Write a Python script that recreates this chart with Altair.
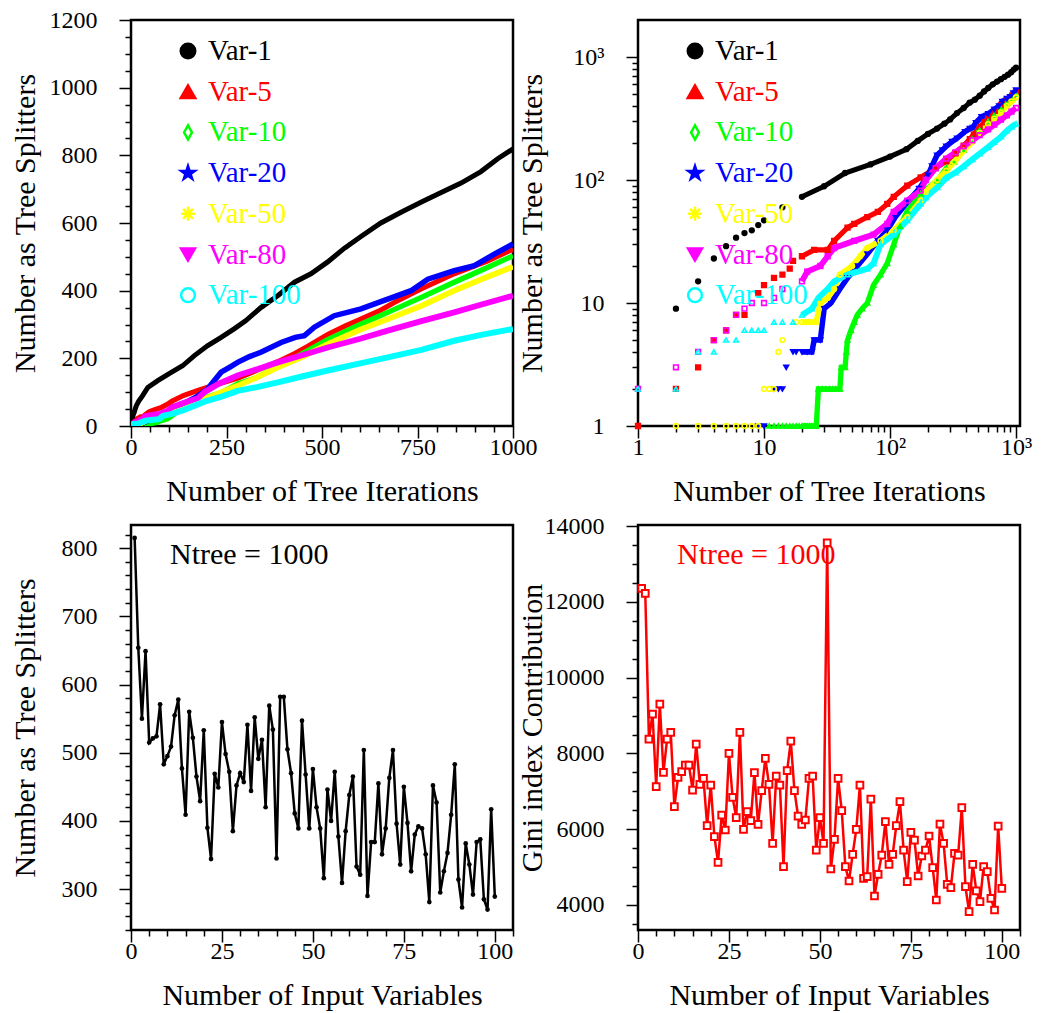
import altair as alt
import pandas as pd

FONT = "Liberation Serif"

# ---------------- top panels: cumulative counts per variable ----------------
var_names = ["Var-1", "Var-5", "Var-10", "Var-20", "Var-50", "Var-80", "Var-100"]
var_colors = ["#000000", "#ff0000", "#00ff00", "#0000ff", "#ffff00", "#ff00ff", "#00ffff"]

var1_iter = [2, 3, 4, 5, 6, 7, 8, 9, 10, 14, 20, 30, 44, 70, 100, 135, 166, 200, 236, 270, 300, 340, 384, 428,
             471, 515, 558, 602, 654, 707, 759, 812, 864, 916, 960, 1000]
var1_count = [9, 15, 23, 29, 34, 37, 39, 43, 47, 60, 73, 89, 114, 134, 155, 178, 208, 237, 262, 287, 311, 350, 385, 425,
              450, 485, 525, 560, 600, 632, 661, 690, 718, 752, 790, 819]

var5_iter = [1, 2, 3, 4, 5, 6, 7, 9, 10, 12, 14, 16, 17, 20, 25, 32, 36, 46, 52, 66, 80, 95, 107, 137, 175, 230,
             280, 330, 384, 430, 462, 515, 560, 600, 650, 689, 759, 846, 934, 1000]
var5_count = [1, 2, 3, 5, 6, 8, 8, 12, 14, 16, 17, 19, 22, 24, 27, 27, 32, 41, 44, 50, 55, 64, 73, 90, 105, 125,
              142, 165, 190, 215, 235, 270, 295, 315, 340, 365, 405, 450, 488, 523]

var10_iter = [11, 12, 13, 14, 15, 16, 17, 18, 19, 20, 21, 22, 23, 24, 25, 26, 27, 29, 31, 33, 35, 37, 40, 41, 44, 45,
              46, 49, 52, 55, 60, 66, 74, 84, 95, 107, 120, 137, 175, 237, 280, 322, 384, 450, 515, 600, 672,
              760, 846, 920, 1000]
var10_count = [1, 1, 1, 1, 1, 1, 1, 1, 1, 1, 1, 1, 1, 1, 1, 1, 2, 2, 2, 2, 2, 2, 2, 3, 3, 4,
               5, 6, 7, 8, 9, 10, 14, 17, 21, 30, 42, 56, 77, 99, 125, 140, 175, 215, 255, 300, 336,
               380, 425, 462, 503]

var20_iter = [9, 10, 12, 13, 14, 15, 17, 18, 20, 22, 24, 25, 28, 30, 34, 40, 46, 55, 66, 80, 95, 110, 137, 170, 200,
              215, 236, 260, 279, 310, 340, 393, 430, 454, 480, 532, 602, 672, 733, 777, 846, 899, 951, 1000]
var20_count = [1, 1, 2, 2, 2, 3, 4, 4, 4, 4, 4, 5, 5, 9, 10, 13, 16, 20, 25, 32, 39, 50, 66, 85, 109,
               130, 159, 175, 188, 205, 218, 247, 262, 267, 292, 326, 346, 375, 400, 434, 459, 474, 508, 538]

var50_iter = [2, 3, 4, 5, 6, 7, 8, 9, 10, 11, 12, 13, 14, 18, 20, 22, 24, 26, 28, 32, 36, 40, 50, 58, 66, 84, 107,
              137, 175, 192, 237, 279, 322, 384, 450, 515, 600, 672, 760, 846, 920, 1000]
var50_count = [1, 1, 1, 1, 1, 1, 1, 1, 2, 2, 2, 4, 5, 7, 7, 7, 7, 7, 10, 11, 13, 17, 20, 24, 28, 32, 39,
               50, 68, 80, 100, 119, 140, 173, 205, 242, 285, 316, 355, 400, 435, 471]

var80_iter = [1, 2, 3, 4, 5, 6, 7, 8, 10, 12, 14, 20, 22, 28, 32, 36, 52, 74, 95, 107, 137, 175, 192, 230, 279,
              330, 384, 450, 515, 600, 672, 760, 846, 920, 1000]
var80_count = [2, 3, 4, 5, 6, 8, 9, 10, 10, 11, 13, 15, 18, 20, 24, 28, 32, 36, 44, 55, 68, 82, 100, 125, 149,
               168, 188, 210, 232, 258, 282, 310, 336, 360, 385]

var100_iter = [1, 2, 3, 4, 5, 6, 7, 8, 9, 10, 12, 14, 17, 20, 24, 27, 32, 36, 46, 66, 74, 84, 107, 137, 175, 192,
               237, 279, 330, 384, 450, 515, 600, 672, 760, 846, 920, 1000]
var100_count = [2, 2, 4, 4, 5, 5, 6, 6, 6, 6, 7, 7, 7, 8, 9, 11, 13, 15, 17, 19, 21, 30, 36, 47, 64, 72,
                87, 104, 115, 129, 147, 164, 185, 203, 225, 252, 270, 287]

# ---------------- bottom panels ----------------
input_var = list(range(1, 101))
splitters = [815, 654, 550, 649, 515, 521, 524, 571, 483, 495, 509, 555, 578, 477, 409, 560, 522, 465, 429, 533,
             390, 344, 469, 449, 545, 498, 472, 385, 452, 470, 457, 541, 444, 552, 491, 519, 420, 569, 534, 345,
             582, 582, 505, 470, 411, 389, 547, 468, 389, 476, 420, 389, 316, 446, 400, 472, 377, 309, 385, 438,
             465, 333, 321, 504, 290, 369, 369, 455, 351, 389, 463, 504, 396, 336, 450, 397, 326, 380, 392, 389,
             351, 281, 452, 427, 295, 326, 353, 409, 483, 314, 273, 367, 336, 292, 369, 373, 285, 270, 417, 289]
gini = [12355, 12223, 8380, 9040, 7122, 9303, 7500, 8380, 8556, 6595, 7368, 7518, 7694, 7694, 7034, 8248, 7184,
        7342, 6093, 7166, 5803, 5126, 6374, 5979, 8002, 6841, 6304, 8556, 5997, 6463, 6225, 7492, 6129, 7017,
        7870, 7184, 5627, 7404, 7166, 5011, 7545, 8327, 7017, 6348, 6129, 6243, 7342, 7404, 5451, 6304, 5627,
        13560, 4950, 5733, 7342, 6489, 5011, 4633, 5337, 5997, 7166, 4704, 4748, 6797, 4237, 4809, 5319, 6199,
        5073, 5337, 6093, 6727, 5451, 4616, 5918, 5715, 4765, 5293, 5451, 5821, 4985, 4132, 6137, 5627, 4545,
        4458, 5363, 5319, 6568, 4484, 3824, 5073, 4370, 4088, 5011, 4880, 4176, 3868, 6084, 4440]
ntree_text = ["Ntree = 1000"]

# ---------------- build tables ----------------
series = [
    (var1_iter, var1_count), (var5_iter, var5_count), (var10_iter, var10_count), (var20_iter, var20_count),
    (var50_iter, var50_count), (var80_iter, var80_count), (var100_iter, var100_count),
]
rows = []
for k, (name, (its, cs)) in enumerate(zip(var_names, series)):
    for it, c in zip(its, cs):
        rows.append({"var": name, "iter": it, "count": c, "k": k})
df_top = pd.DataFrame(rows)
df_leg = pd.DataFrame({"var": var_names, "idx": list(range(len(var_names)))})
df_bot = pd.DataFrame({"input": input_var, "splitters": splitters, "gini": gini})
df_note = pd.DataFrame({"label": ntree_text})

color_scale = alt.Scale(domain=var_names, range=var_colors)

DIAMOND = "M0,-1L0.55,0L0,1L-0.55,0Z"
STAR = "M0,-1L0.224,-0.309L0.951,-0.309L0.363,0.118L0.588,0.809L0,0.382L-0.588,0.809L-0.363,0.118L-0.951,-0.309L-0.224,-0.309Z"
ASTER = "M0,-1L0,1M-1,0L1,0M-0.7,-0.7L0.7,0.7M-0.7,0.7L0.7,-0.7"
leg_shapes = ["circle", "triangle-up", DIAMOND, STAR, ASTER, "triangle-down", "circle"]
leg_fills = ["#000000", "#ff0000", "transparent", "#0000ff", "transparent", "#ff00ff", "transparent"]
leg_sizes = [210, 190, 260, 170, 250, 190, 230]

W, H_TOP, H_BOT = 382, 406, 405


def axis(values, major_test, label_expr, title, kind):
    kw = dict(
        values=values, title=title, labelExpr=label_expr,
        tickSize={"condition": {"test": major_test, "value": 12}, "value": 6},
        tickColor="black", tickWidth=1.5, domain=False, grid=False,
        labelFont=FONT, labelFontSize=24, labelColor="black",
        titleFont=FONT, titleFontSize=30, titleFontWeight="normal", titleColor="black",
        labelOverlap=False, labelFlush=False,
    )
    if kind == "x":
        kw.update(labelPadding=-3, titlePadding=12, minExtent=38, maxExtent=38)
    else:
        kw.update(labelPadding=22, titlePadding=13, minExtent=78, maxExtent=78)
    return alt.Axis(**kw)


def lin_label(step):
    return f"datum.value % {step} === 0 ? format(datum.value, 'd') : ''"


LOG_TEST = "indexof([1, 10, 100, 1000], datum.value) >= 0"
LOG_LABEL = ("datum.value == 1 ? '1' : datum.value == 10 ? '10' : datum.value == 100 ? '10\u00b2' : "
             "datum.value == 1000 ? '10\u00b3' : ''")
log_vals = [m * d for d in (1, 10, 100) for m in range(1, 10)] + [1000]


def legend_layers():
    pts = alt.Chart(df_leg).mark_point(opacity=1, strokeWidth=2.5, filled=False).encode(
        x=alt.value(57),
        y=alt.Y("ypx:Q", scale=None, axis=None),
        shape=alt.Shape("var:N", scale=alt.Scale(domain=var_names, range=leg_shapes), legend=None),
        fill=alt.Fill("var:N", scale=alt.Scale(domain=var_names, range=leg_fills), legend=None),
        stroke=alt.Stroke("var:N", scale=color_scale, legend=None),
        size=alt.Size("var:N", scale=alt.Scale(domain=var_names, range=leg_sizes), legend=None),
    ).transform_calculate(ypx="31 + datum.idx * 40.7")
    txt = alt.Chart(df_leg).mark_text(align="left", baseline="middle", font=FONT, fontSize=29).encode(
        x=alt.value(77),
        y=alt.Y("ypx:Q", scale=None, axis=None),
        text="var:N",
        color=alt.Color("var:N", scale=color_scale, legend=None),
    ).transform_calculate(ypx="31 + datum.idx * 40.7")
    return [pts, txt]


# ---- top-left: linear ----
tl_widths = [5, 6, 6, 5, 6.5, 7, 8]
tl_lines = alt.Chart(df_top).mark_line(clip=True).encode(
    x=alt.X("iter:Q", scale=alt.Scale(domain=[0, 1000], nice=False, zero=False),
            axis=axis(list(range(0, 1001, 50)), "datum.value % 250 === 0", lin_label(250),
                      "Number of Tree Iterations", "x")),
    y=alt.Y("count:Q", scale=alt.Scale(domain=[0, 1200], nice=False),
            axis=axis(list(range(0, 1201, 50)), "datum.value % 200 === 0", lin_label(200),
                      "Number as Tree Splitters", "y")),
    color=alt.Color("var:N", scale=color_scale, legend=None),
    strokeWidth=alt.StrokeWidth("var:N", scale=alt.Scale(domain=var_names, range=tl_widths), legend=None),
    detail="var:N",
)
tl = alt.layer(tl_lines, *legend_layers()).resolve_scale(
    fill="independent", shape="independent", size="independent", stroke="independent"
).properties(width=W, height=H_TOP)

# ---- top-right: log-log ----
tr_widths = [4, 5.5, 5, 5, 6, 7, 7.5]
tr_shapes = ["circle", "square", "triangle-up", "triangle-down", "circle", "square", "triangle-up"]
tr_fills = ["#000000", "#ff0000", "#00ff00", "#0000ff", "transparent", "transparent", "transparent"]
tr_sizes = [22, 22, 28, 28, 40, 40, 55]
x_log = alt.X("iter:Q", scale=alt.Scale(type="log", domain=[1, 1075], nice=False),
              axis=axis(log_vals, LOG_TEST, LOG_LABEL, "Number of Tree Iterations", "x"))
y_log = alt.Y("count:Q", scale=alt.Scale(type="log", domain=[1, 2000], nice=False),
              axis=axis(log_vals, LOG_TEST, LOG_LABEL, "Number as Tree Splitters", "y"))
tr_lines = alt.Chart(df_top).transform_filter("datum.iter >= 20").mark_line().encode(
    x=x_log, y=y_log,
    color=alt.Color("var:N", scale=color_scale, legend=None),
    strokeWidth=alt.StrokeWidth("var:N", scale=alt.Scale(domain=var_names, range=tr_widths), legend=None),
    detail="var:N",
)
tr_pts = alt.Chart(df_top).mark_point(opacity=1, strokeWidth=1.6, filled=False).encode(
    x=x_log, y=y_log,
    shape=alt.Shape("var:N", scale=alt.Scale(domain=var_names, range=tr_shapes), legend=None),
    fill=alt.Fill("var:N", scale=alt.Scale(domain=var_names, range=tr_fills), legend=None),
    stroke=alt.Stroke("var:N", scale=color_scale, legend=None),
    size=alt.Size("var:N", scale=alt.Scale(domain=var_names, range=tr_sizes), legend=None),
)
tr = alt.layer(tr_lines, tr_pts, *legend_layers()).resolve_scale(
    fill="independent", shape="independent", size="independent", stroke="independent"
).properties(width=W, height=H_TOP)

# ---- bottom-left ----
x_in = alt.X("input:Q", scale=alt.Scale(domain=[0, 105], nice=False, zero=False),
             axis=axis(list(range(0, 106, 5)), "datum.value % 25 === 0", lin_label(25),
                       "Number of Input Variables", "x"))
y_spl = alt.Y("splitters:Q", scale=alt.Scale(domain=[240, 834], nice=False, zero=False),
              axis=axis(list(range(240, 834, 20)), "datum.value % 100 === 0", lin_label(100),
                        "Number as Tree Splitters", "y"))
bl_base = alt.Chart(df_bot).encode(x=x_in, y=y_spl)
bl_line = bl_base.mark_line(color="black", strokeWidth=2.5)
bl_pts = bl_base.mark_point(filled=True, color="black", size=22, opacity=1)
bl_note = alt.Chart(df_note).mark_text(align="left", baseline="middle", font=FONT, fontSize=30,
                                       color="black").encode(x=alt.value(39), y=alt.value(30), text="label:N")
bl = alt.layer(bl_line, bl_pts, bl_note).properties(width=W, height=H_BOT)

# ---- bottom-right ----
y_gini = alt.Y("gini:Q", scale=alt.Scale(domain=[3340, 14030], nice=False, zero=False),
               axis=axis(list(range(3500, 14001, 500)), "datum.value % 2000 === 0", lin_label(2000),
                         "Gini index Contribution", "y"))
br_base = alt.Chart(df_bot).encode(x=x_in, y=y_gini)
br_line = br_base.mark_line(color="#ff0000", strokeWidth=2.5)
br_pts = br_base.mark_point(shape="square", size=45, stroke="#ff0000", fill="white",
                            strokeWidth=2, opacity=1, filled=False)
br_note = alt.Chart(df_note).mark_text(align="left", baseline="middle", font=FONT, fontSize=30,
                                       color="#ff0000").encode(x=alt.value(39), y=alt.value(30), text="label:N")
br = alt.layer(br_line, br_pts, br_note).properties(width=W, height=H_BOT)

chart = alt.concat(tl, tr, bl, br, columns=2, spacing={"row": 99, "column": 125}, bounds="flush").properties(
    padding={"left": 0, "top": -2, "right": 0, "bottom": 0}
).configure_view(stroke="black", strokeWidth=2.5)

chart.save("out.html", embed_options={"renderer": "svg", "actions": False})
